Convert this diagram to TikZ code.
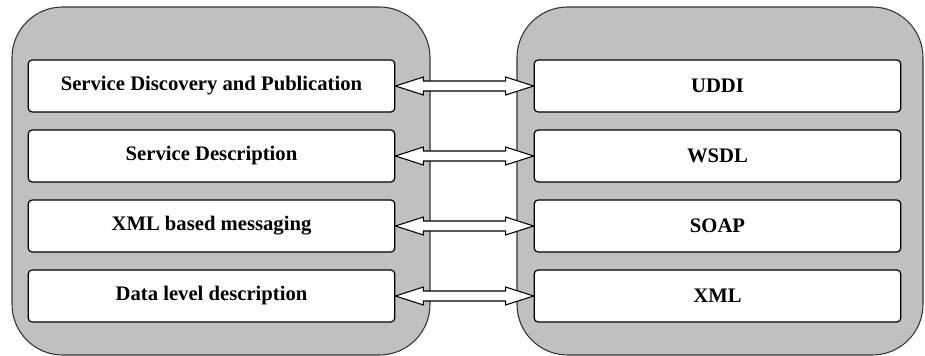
\documentclass[tikz,border=0pt]{standalone}
\usepackage{fontspec}
\setmainfont{Liberation Serif}
\usetikzlibrary{calc}

\definecolor{panelgray}{RGB}{192,192,192}

\tikzset{
  panel/.style={draw=black!80, fill=panelgray, line width=0.8pt, rounded corners=38pt},
  layer/.style={draw, fill=white, line width=0.9pt, rounded corners=3pt,
    minimum width=275pt, minimum height=39pt, inner sep=0pt,
    font=\bfseries\fontsize{15.5}{17}\selectfont},
  linkline/.style={draw, fill=white, line width=0.8pt, line join=miter}
}

% hollow double arrow from the east side of #1 to the west side of #2
\newcommand{\linkarrow}[2]{%
  \draw[linkline] (#1.east) -- ++(28,-9) -- ++(0,4) -- ($(#2.west)+(-28,-5)$)
    -- ++(0,-4) -- (#2.west) -- ++(-28,9) -- ++(0,-4) -- ($(#1.east)+(28,5)$)
    -- ++(0,4) -- cycle;}

\begin{document}
\begin{tikzpicture}[x=0.75pt, y=-0.75pt]
\useasboundingbox (0,0) rectangle (925,356);

\draw[panel] (12,7) rectangle (430,355);
\draw[panel] (517,7) rectangle (923,355);

\path
(211.5,86) node[layer] (disc) {Service Discovery and Publication}
(211.5,156) node[layer] (desc) {Service Description}
(211.5,226) node[layer] (msg) {XML based messaging}
(211.5,296) node[layer] (data) {Data level description}
(717.5,86) node[layer] (uddi) {UDDI}
(717.5,156) node[layer] (wsdl) {WSDL}
(717.5,226) node[layer] (soap) {SOAP}
(717.5,296) node[layer] (xml) {XML}
;

\linkarrow{disc}{uddi}
\linkarrow{desc}{wsdl}
\linkarrow{msg}{soap}
\linkarrow{data}{xml}

\end{tikzpicture}
\end{document}
